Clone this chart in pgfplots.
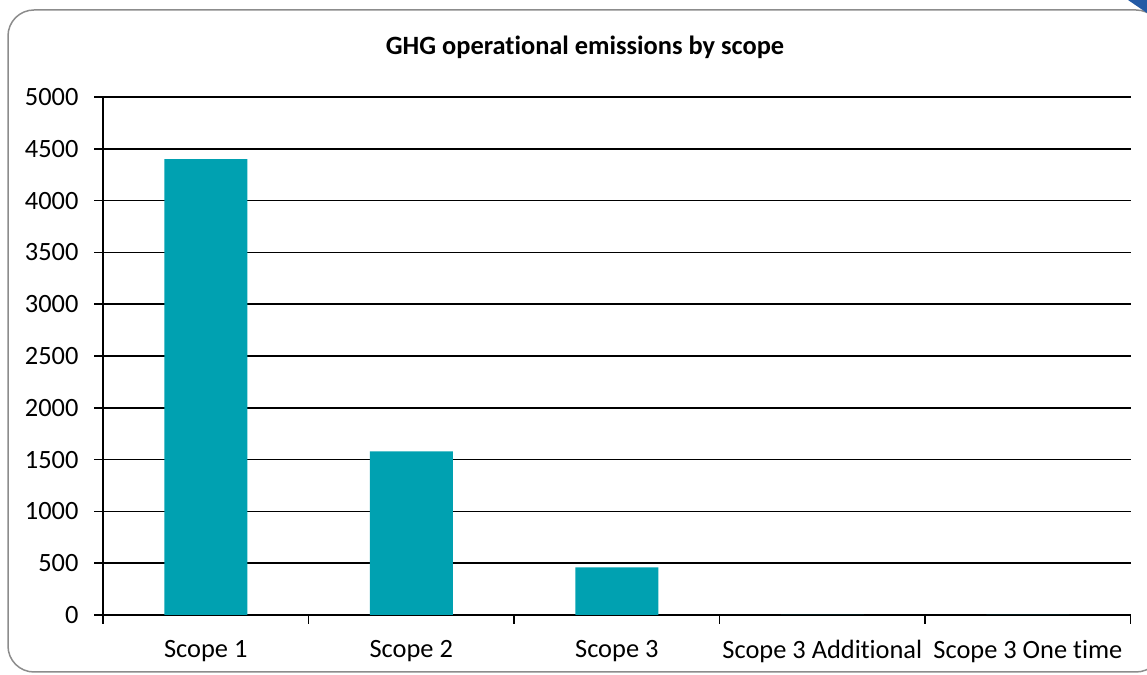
\documentclass[border=0pt]{standalone}
\usepackage{fontspec}
\setmainfont[Ligatures=NoCommon]{Carlito}
\usepackage{pgfplots}
\pgfplotsset{compat=1.18}
\definecolor{barteal}{RGB}{0,161,177}
\definecolor{framegray}{RGB}{140,140,140}
\definecolor{cornerblue}{RGB}{35,90,165}
\begin{document}
\begin{tikzpicture}[x=1bp,y=1bp]
\path[use as bounding box] (0,0) rectangle (1147,675);
\draw[framegray, line width=1.5bp, rounded corners=26bp] (8,3) rectangle (1162,665);
\fill[cornerblue] (1128,675) -- (1147,675) -- (1147,662) -- cycle;
\node[font=\fontsize{26.5}{30}\selectfont\bfseries] at (585,628) {GHG operational emissions by scope};
\begin{axis}[
  at={(103bp,60bp)}, anchor=south west,
  scale only axis, width=1027.7bp, height=518bp,
  xmin=-0.5, xmax=4.5, ymin=0, ymax=5000,
  ybar, bar width=83bp, bar shift=0pt,
  axis x line=bottom, axis y line=left,
  axis line style={-, black, line width=1.6bp},
  ymajorgrids, grid style={black, line width=1.6bp},
  ytick={0,500,...,5000},
  xtick={0,1,2,3,4},
  xticklabels={Scope 1, Scope 2, Scope 3, Scope 3 Additional, Scope 3 One time},
  minor xtick={-0.5,0.5,1.5,2.5,3.5,4.5},
  major x tick style={draw=none},
  tick align=outside,
  major tick length=9bp, minor tick length=9bp,
  tick style={black, line width=1.6bp},
  /pgf/number format/assume math mode=true,
  /pgf/number format/1000 sep={},
  ticklabel style={font=\fontsize{26.5}{30}\selectfont},
  yticklabel style={xshift=-12bp},
  xticklabel style={yshift=-13bp},
  clip=false,
]
\addplot[fill=barteal, draw=none] coordinates {(0,4400) (1,1580) (2,460) (3,0) (4,0)};
\end{axis}
\end{tikzpicture}
\end{document}
